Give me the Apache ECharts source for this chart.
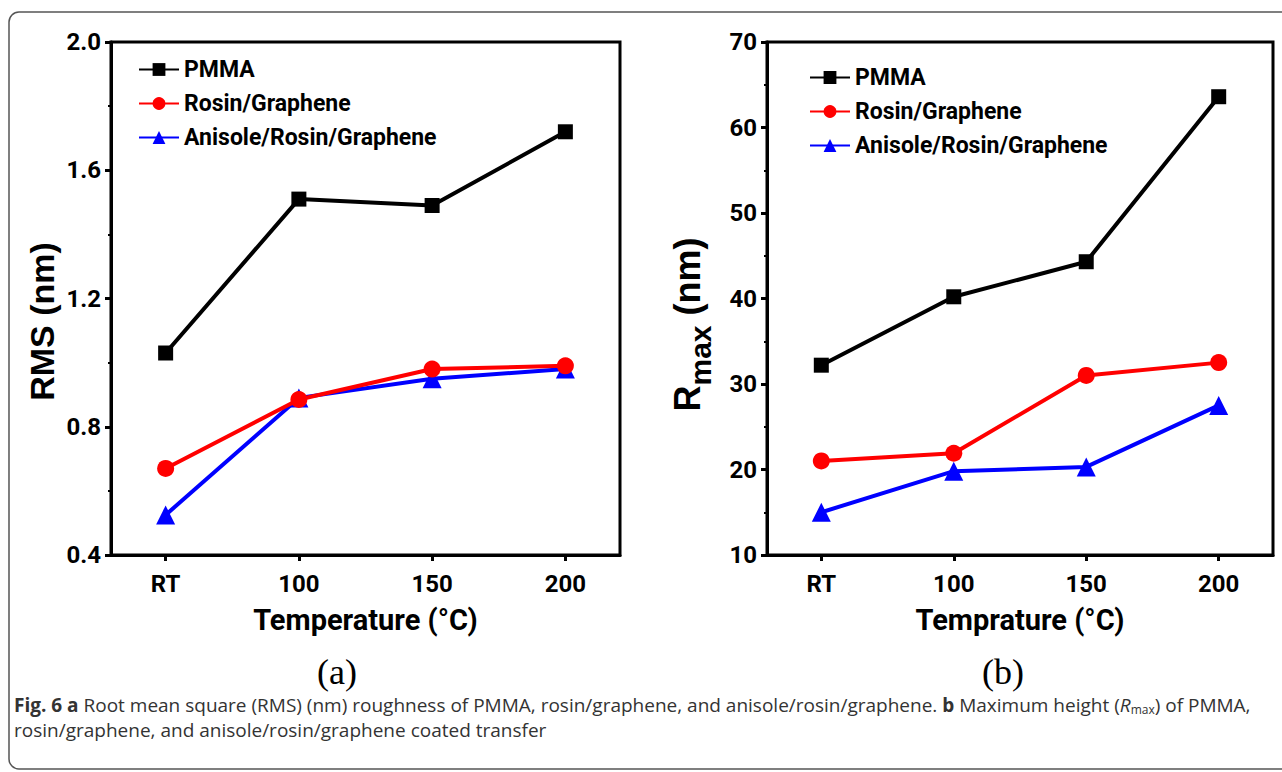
<!DOCTYPE html>
<html>
<head>
    <meta charset="utf-8">
    <script src="https://cdn.jsdelivr.net/npm/echarts@6/dist/echarts.min.js"></script>
    <style>
        html, body { margin: 0; padding: 0; background: #fff; }
    </style>
</head>
<body>
<div id="main" style="width: 1282px;height:772px;"></div>
<script type="text/javascript">
    // categories on the temperature axis
    var temps = ['RT', '100', '150', '200'];

    // (a) RMS roughness, nm
    var rmsPMMA = [1.03, 1.51, 1.49, 1.72];
    var rmsRosin = [0.67, 0.885, 0.98, 0.99];
    var rmsAnisole = [0.525, 0.89, 0.95, 0.98];

    // (b) Rmax, nm
    var rmaxPMMA = [32.2, 40.2, 44.3, 63.6];
    var rmaxRosin = [21.0, 21.9, 31.0, 32.5];
    var rmaxAnisole = [15.0, 19.8, 20.3, 27.5];

    var names = ['PMMA', 'Rosin/Graphene', 'Anisole/Rosin/Graphene'];
    var colors = ['#000000', '#ff0000', '#0000ff'];
    var symbols = ['rect', 'circle', 'triangle'];
    var symbolSizes = [15, 17, 19];

    // no narrow Arial here, Roboto is the closest width
    var narrow = "Roboto, 'Liberation Sans', sans-serif";
    var wide = "'Liberation Sans', Arial, sans-serif";

    function pairs(vals) {
        return vals.map(function (v, i) { return [i, v]; });
    }

    function makeSeries(list, idx) {
        return list.map(function (vals, k) {
            return {
                name: names[k],
                type: 'line',
                xAxisIndex: idx,
                yAxisIndex: idx,
                data: pairs(vals),
                symbol: symbols[k],
                symbolSize: symbolSizes[k],
                itemStyle: { color: colors[k] },
                lineStyle: { color: colors[k], width: 4 },
                z: 5 - k
            };
        });
    }

    function xAxis(idx, title) {
        return {
            type: 'value',
            gridIndex: idx,
            min: -0.41,
            max: 3.41,
            name: title,
            nameLocation: 'middle',
            nameGap: 50,
            nameTextStyle: { fontFamily: narrow, fontWeight: 'bold', fontSize: 29, color: '#000' },
            axisLine: { onZero: false, lineStyle: { color: '#000', width: 3 } },
            axisTick: { customValues: [0, 1, 2, 3], length: 6, lineStyle: { width: 3, color: '#000' } },
            axisLabel: {
                customValues: [0, 1, 2, 3],
                formatter: function (v) { return temps[Math.round(v)]; },
                fontFamily: narrow, fontWeight: 'bold', fontSize: 24, color: '#000', margin: 17
            },
            splitLine: { show: false }
        };
    }

    function yAxis(idx, min, max, step, digits, name, nameStyle) {
        return {
            type: 'value',
            gridIndex: idx,
            min: min,
            max: max,
            interval: step,
            name: name,
            nameLocation: 'middle',
            nameRotate: 90,
            nameGap: 52,
            nameTextStyle: nameStyle,
            axisLine: { onZero: false, lineStyle: { color: '#000', width: 3 } },
            axisTick: { length: 6, lineStyle: { width: 3, color: '#000' } },
            minorTick: { show: true, splitNumber: 2, length: 3, lineStyle: { width: 2, color: '#000' } },
            axisLabel: {
                formatter: function (v) { return v.toFixed(digits); },
                fontFamily: narrow, fontWeight: 'bold', fontSize: 24, color: '#000', margin: 10
            },
            splitLine: { show: false }
        };
    }

    var legendBase = {
        orient: 'vertical',
        itemWidth: 40,
        itemHeight: 16,
        itemGap: 11,
        textStyle: { fontFamily: narrow, fontWeight: 'bold', fontSize: 23, color: '#000' },
        data: names
    };

    var myChart = echarts.init(document.getElementById('main'), null, { renderer: 'svg' });

    var option = {
        animation: false,
        backgroundColor: '#fff',
        grid: [
            { left: 111, right: 662, top: 42, bottom: 217, show: true, borderColor: '#000', borderWidth: 3 },
            { left: 767, right: 9, top: 42, bottom: 217, show: true, borderColor: '#000', borderWidth: 3 }
        ],
        legend: [
            Object.assign({}, legendBase, { left: 133, top: 53 }),
            Object.assign({}, legendBase, { left: 804, top: 61 })
        ],
        xAxis: [
            xAxis(0, 'Temperature (\u00B0C)'),
            xAxis(1, 'Temprature (\u00B0C)')
        ],
        yAxis: [
            yAxis(0, 0.4, 2.0, 0.4, 1, 'RMS (nm)', {
                fontFamily: wide, fontWeight: 'bold', fontSize: 34, color: '#000',
                padding: [0, 46, 0, 0]
            }),
            yAxis(1, 10, 70, 10, 0, '{b|R}{s|max}{b| (nm)}', {
                fontFamily: wide, fontWeight: 'bold', color: '#000',
                padding: [0, 52, 0, 0],
                rich: {
                    b: { fontFamily: wide, fontWeight: 'bold', fontSize: 36, color: '#000', verticalAlign: 'bottom', padding: [0, 0, 10, 0] },
                    s: { fontFamily: wide, fontWeight: 'bold', fontSize: 30, color: '#000', verticalAlign: 'bottom' }
                }
            })
        ],
        series: makeSeries([rmsPMMA, rmsRosin, rmsAnisole], 0)
            .concat(makeSeries([rmaxPMMA, rmaxRosin, rmaxAnisole], 1)),
        graphic: [
            {
                type: 'rect',
                shape: { x: 9, y: 12, width: 1300, height: 757, r: 10 },
                style: { fill: 'none', stroke: '#555', lineWidth: 1.5 },
                silent: true
            },
            {
                type: 'text', x: 337, y: 672,
                style: { text: '(a)', font: "36px 'Liberation Serif', 'Times New Roman', serif", fill: '#000', align: 'center', verticalAlign: 'middle' }
            },
            {
                type: 'text', x: 1003, y: 672,
                style: { text: '(b)', font: "36px 'Liberation Serif', 'Times New Roman', serif", fill: '#000', align: 'center', verticalAlign: 'middle' }
            },
            {
                type: 'text', x: 14, y: 705,
                style: {
                    text: '{b|Fig. 6 a} Root mean square (RMS) (nm) roughness of PMMA, rosin/graphene, and anisole/rosin/graphene. {b|b} Maximum height ({i|R}{sub|max}) of PMMA,',
                    font: "19px 'Open Sans', sans-serif",
                    fill: '#333',
                    verticalAlign: 'middle',
                    lineHeight: 20,
                    rich: {
                        b: { fontFamily: "'Open Sans', sans-serif", fontWeight: 'bold', fontSize: 19, fill: '#333', lineHeight: 20 },
                        i: { fontFamily: "'Open Sans', sans-serif", fontStyle: 'italic', fontSize: 19, fill: '#333', lineHeight: 20 },
                        sub: { fontFamily: "'Open Sans', sans-serif", fontSize: 12, fill: '#333', lineHeight: 20, verticalAlign: 'bottom' }
                    }
                }
            },
            {
                type: 'text', x: 14, y: 730,
                style: {
                    text: 'rosin/graphene, and anisole/rosin/graphene coated transfer',
                    font: "19px 'Open Sans', sans-serif",
                    fill: '#333',
                    verticalAlign: 'middle'
                }
            }
        ]
    };

    myChart.setOption(option);
</script>
</body>
</html>
